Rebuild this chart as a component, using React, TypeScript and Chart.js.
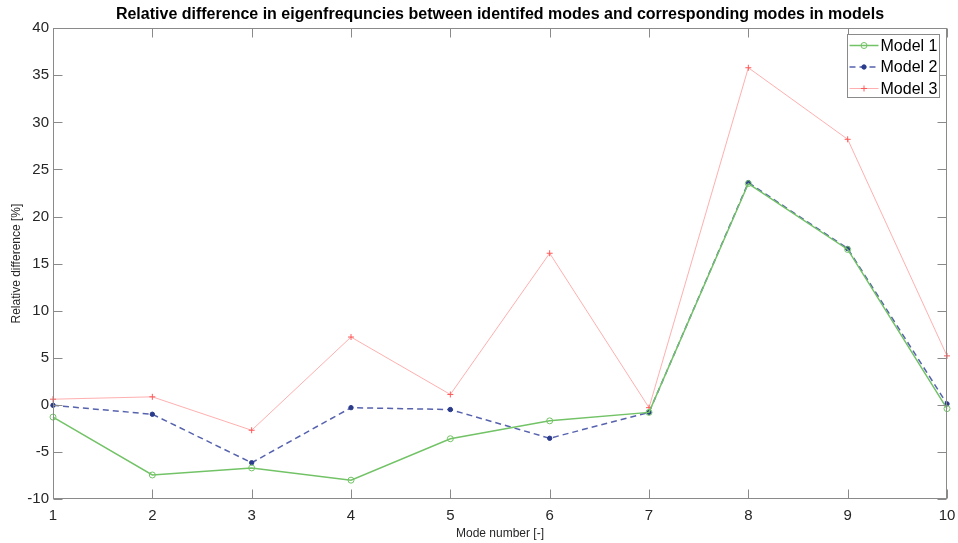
import React, { useEffect, useRef } from 'react';
import { Chart, registerables } from 'chart.js';

Chart.register(...registerables);

const modes = ['1', '2', '3', '4', '5', '6', '7', '8', '9', '10'];
const model1 = [-1.3, -7.45, -6.7, -8.0, -3.6, -1.7, -0.8, 23.5, 16.5, -0.4];
const model2 = [-0.05, -1.0, -6.15, -0.3, -0.5, -3.55, -0.8, 23.6, 16.6, 0.1];
const model3 = [0.6, 0.85, -2.7, 7.2, 1.1, 16.1, -0.3, 35.8, 28.2, 5.2];
const seriesNames = ['Model 1', 'Model 2', 'Model 3'];
const yMin = -10;
const yMax = 40;
const yStep = 5;

const FONT = "'Liberation Sans', Arial, Helvetica, sans-serif";
const TICK_LEN = 9;

function drawMarker(ctx: CanvasRenderingContext2D, style: string, x: number, y: number, r: number, stroke: string, fill: string) {
  ctx.save();
  ctx.setLineDash([]);
  ctx.strokeStyle = stroke;
  ctx.fillStyle = fill;
  ctx.lineWidth = 1;
  ctx.beginPath();
  if (style === 'circle') {
    ctx.arc(x, y, r, 0, Math.PI * 2);
    if (fill !== 'transparent') ctx.fill();
    ctx.stroke();
  } else if (style === 'cross') {
    ctx.moveTo(x - r, y);
    ctx.lineTo(x + r, y);
    ctx.moveTo(x, y - r);
    ctx.lineTo(x, y + r);
    ctx.stroke();
  }
  ctx.restore();
}

const framePlugin = {
  id: 'frame',
  afterDatasetsDraw(chart: any) {
    const { ctx, chartArea: a, scales } = chart;
    const L = Math.round(a.left) + 0.5;
    const R = Math.round(a.right) - 0.5;
    const T = Math.round(a.top) + 0.5;
    const B = Math.round(a.bottom) - 0.5;
    ctx.save();
    ctx.strokeStyle = '#8a8a8a';
    ctx.lineWidth = 1;
    ctx.setLineDash([]);
    ctx.strokeRect(L, T, R - L, B - T);
    ctx.beginPath();
    scales.x.ticks.forEach((_t: any, i: number) => {
      const px = Math.round(scales.x.getPixelForTick(i)) + 0.5;
      ctx.moveTo(px, B);
      ctx.lineTo(px, B - TICK_LEN);
      ctx.moveTo(px, T);
      ctx.lineTo(px, T + TICK_LEN);
    });
    scales.y.ticks.forEach((_t: any, i: number) => {
      const py = Math.round(scales.y.getPixelForTick(i)) + 0.5;
      ctx.moveTo(L, py);
      ctx.lineTo(L + TICK_LEN, py);
      ctx.moveTo(R, py);
      ctx.lineTo(R - TICK_LEN, py);
    });
    ctx.stroke();
    ctx.restore();
  },
  afterDraw(chart: any) {
    const { ctx, chartArea: a } = chart;
    const w = 92;
    const h = 63;
    const x0 = Math.round(a.right - 8 - w) + 0.5;
    const y0 = Math.round(a.top + 6) + 0.5;
    ctx.save();
    ctx.fillStyle = '#ffffff';
    ctx.fillRect(x0, y0, w, h);
    ctx.strokeStyle = '#8a8a8a';
    ctx.lineWidth = 1;
    ctx.strokeRect(x0, y0, w, h);
    chart.data.datasets.forEach((ds: any, i: number) => {
      const cy = y0 + 11 + i * 21.5;
      const lx0 = x0 + 2;
      const lx1 = x0 + 31;
      ctx.save();
      ctx.strokeStyle = ds.borderColor;
      ctx.lineWidth = ds.borderWidth;
      ctx.setLineDash(ds.borderDash || []);
      ctx.beginPath();
      ctx.moveTo(lx0, cy);
      ctx.lineTo(lx1, cy);
      ctx.stroke();
      ctx.restore();
      drawMarker(ctx, ds.pointStyle, (lx0 + lx1) / 2, cy, ds.pointRadius, ds.pointBorderColor, ds.pointBackgroundColor);
      ctx.fillStyle = '#000';
      ctx.font = `16px ${FONT}`;
      ctx.textBaseline = 'middle';
      ctx.textAlign = 'left';
      ctx.fillText(ds.label, lx1 + 2, cy + 1);
    });
    ctx.restore();
  },
};

export default function App() {
  const ref = useRef<HTMLCanvasElement | null>(null);

  useEffect(() => {
    document.body.style.margin = '0';
    if (!ref.current) return;
    const chart = new Chart(ref.current, {
      type: 'line',
      data: {
        labels: modes,
        datasets: [
          {
            label: seriesNames[0],
            data: model1,
            borderColor: '#72c266',
            borderWidth: 1.5,
            pointStyle: 'circle',
            pointRadius: 3,
            pointBorderColor: '#72c266',
            pointBackgroundColor: 'transparent',
            pointBorderWidth: 1,
            clip: false,
            tension: 0,
          } as any,
          {
            label: seriesNames[1],
            data: model2,
            borderColor: '#5662ad',
            borderWidth: 1.5,
            borderDash: [6, 4],
            pointStyle: 'circle',
            pointRadius: 2.2,
            pointBorderColor: '#2b3b8c',
            pointBackgroundColor: '#2b3b8c',
            pointBorderWidth: 1,
            clip: false,
            tension: 0,
          } as any,
          {
            label: seriesNames[2],
            data: model3,
            borderColor: 'rgba(255, 110, 110, 0.55)',
            borderWidth: 1,
            pointStyle: 'cross',
            pointRadius: 3,
            pointBorderColor: '#ff5a5a',
            pointBackgroundColor: '#ff5a5a',
            pointBorderWidth: 1,
            clip: false,
            tension: 0,
          } as any,
        ],
      },
      options: {
        animation: false,
        responsive: false,
        maintainAspectRatio: false,
        layout: { padding: { left: 0, right: 11, top: 0, bottom: 0 } },
        plugins: {
          legend: { display: false },
          tooltip: { enabled: false },
          title: {
            display: true,
            text: 'Relative difference in eigenfrequncies between identifed modes and corresponding modes in models',
            fullSize: false,
            color: '#000',
            font: { family: FONT, size: 16, weight: 'bold', lineHeight: 1.2 },
            padding: { top: 5, bottom: 4 },
          },
        },
        scales: {
          x: {
            type: 'category',
            offset: false,
            grid: { display: false, drawTicks: false },
            border: { display: false },
            ticks: {
              color: '#262626',
              font: { family: FONT, size: 15 },
              padding: 8,
              maxRotation: 0,
              autoSkip: false,
            },
            title: {
              display: true,
              text: 'Mode number [-]',
              color: '#262626',
              font: { family: FONT, size: 12 },
              padding: { top: 0, bottom: 2 },
            },
            afterFit: (s: any) => {
              s.height = 44;
              s.paddingLeft = 0;
              s.paddingRight = 0;
            },
          },
          y: {
            type: 'linear',
            min: yMin,
            max: yMax,
            grid: { display: false, drawTicks: false },
            border: { display: false },
            ticks: {
              stepSize: yStep,
              color: '#262626',
              font: { family: FONT, size: 15 },
              padding: 4,
            },
            title: {
              display: true,
              text: 'Relative difference [%]',
              color: '#262626',
              font: { family: FONT, size: 12 },
              padding: { top: 9, bottom: 0 },
            },
            afterFit: (s: any) => {
              s.width = 53;
            },
          },
        },
      },
      plugins: [framePlugin],
    });
    return () => chart.destroy();
  }, []);

  return (
    <div style={{ position: 'relative', width: 958, height: 543, background: '#fff' }}>
      <canvas ref={ref} width={958} height={543} style={{ display: 'block', width: 958, height: 543 }} />
    </div>
  );
}
